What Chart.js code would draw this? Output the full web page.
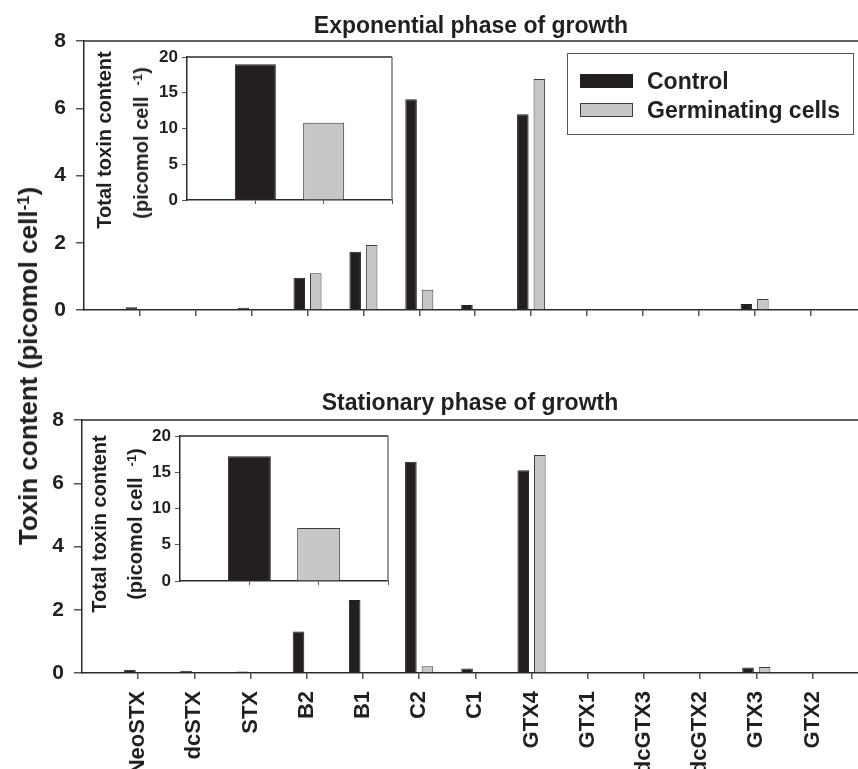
<!DOCTYPE html>
<html>
<head>
<meta charset="utf-8">
<script src="https://cdn.jsdelivr.net/npm/chart.js@4.4.1/dist/chart.umd.min.js"></script>
<style>
  body { margin: 0; background: #fff; width: 858px; height: 769px; overflow: hidden; position: relative;
         font-family: Arial, "Liberation Sans", sans-serif; color: #231f20; }
  canvas { position: absolute; }
  .txt { position: absolute; font-weight: bold; white-space: nowrap; transform: translate(-50%, -50%); line-height: 1; }
  .vert { transform: translate(-50%, -50%) rotate(-90deg); }
  .txt sup { font-size: 0.65em; position: relative; top: -0.5em; vertical-align: baseline; }
  #legend { position: absolute; left: 567px; top: 53px; width: 287px; height: 82px; border: 1.5px solid #555; box-sizing: border-box; }
  .item { position: absolute; left: 12px; height: 24px; display: flex; align-items: center; font-weight: bold; font-size: 23px; }
  .swatch { width: 51px; height: 12px; margin-right: 14px; border: 1px solid; }
</style>
</head>
<body>

<canvas id="expMain" width="858" height="299" style="left:0;top:31px"></canvas>
<canvas id="statMain" width="858" height="359" style="left:0;top:410px"></canvas>
<canvas id="expTotal" width="250" height="168" style="left:150px;top:47px"></canvas>
<canvas id="statTotal" width="253" height="170" style="left:143px;top:426px"></canvas>

<div class="txt" style="left:471px;top:25px;font-size:23px">Exponential phase of growth</div>
<div class="txt" style="left:470px;top:402px;font-size:23px">Stationary phase of growth</div>
<div class="txt vert" style="left:28px;top:366px;font-size:26px">Toxin content (picomol cell<sup>-1</sup>)</div>

<div class="txt vert" style="left:104px;top:140px;font-size:20px">Total toxin content</div>
<div class="txt vert" style="left:141px;top:143px;font-size:20px">(picomol cell &nbsp;<sup>-1</sup>)</div>
<div class="txt vert" style="left:99px;top:524px;font-size:20px">Total toxin content</div>
<div class="txt vert" style="left:135px;top:524px;font-size:20px">(picomol cell &nbsp;<sup>-1</sup>)</div>

<div id="legend"></div>

<script>
// Toxin names along the x axis
const toxins = ['NeoSTX', 'dcSTX', 'STX', 'B2', 'B1', 'C2', 'C1', 'GTX4', 'GTX1', 'dcGTX3', 'dcGTX2', 'GTX3', 'GTX2'];
const seriesNames = ['Control', 'Germinating cells'];

// Exponential phase (picomol per cell)
const expControl = [0.08, 0, 0.07, 0.96, 1.73, 6.27, 0.15, 5.82, 0, 0, 0, 0.18, 0];
const expGerm = [0, 0, 0, 1.09, 1.93, 0.6, 0, 6.87, 0, 0, 0, 0.33, 0];

// Stationary phase (picomol per cell)
const statControl = [0.1, 0.07, 0.05, 1.31, 2.31, 6.68, 0.14, 6.41, 0, 0, 0, 0.17, 0];
const statGerm = [0, 0, 0, 0, 0, 0.21, 0, 6.89, 0, 0, 0, 0.19, 0];

// Insets: total toxin content, control vs germinating
const expTotals = [19.0, 10.8];
const statTotals = [17.2, 7.3];

// Tick labels
const mainTicks = [0, 2, 4, 6, 8];
const insetTicks = [0, 5, 10, 15, 20];

const controlColor = '#231f20';
const germColor = '#c6c7c9';
const germEdge = '#3c3c3c';
const axisColor = '#2b2b2b';

Chart.defaults.font.family = 'Arial, "Liberation Sans", sans-serif';
Chart.defaults.font.weight = 'bold';
Chart.defaults.color = '#231f20';

// Draws the top (and optionally right) frame lines of the plot area
const framePlugin = {
  id: 'frame',
  afterDraw(chart, args, opts) {
    const { ctx, chartArea: a } = chart;
    ctx.save();
    ctx.lineWidth = 1.5;
    ctx.strokeStyle = axisColor;
    ctx.beginPath();
    ctx.moveTo(a.left, a.top);
    ctx.lineTo(a.right, a.top);
    ctx.stroke();
    if (opts.right) {
      ctx.strokeStyle = '#777';
      ctx.beginPath();
      ctx.moveTo(a.right, a.top);
      ctx.lineTo(a.right, a.bottom);
      ctx.stroke();
    }
    ctx.restore();
  }
};

// keep tick labels from pushing the plot area around
function fixWidth(w) {
  return s => { s.width = w; s.paddingTop = 0; s.paddingBottom = 0; };
}
function fixHeight(h) {
  return s => { s.height = h; s.paddingLeft = 0; s.paddingRight = 0; };
}

function toxinChart(id, control, germ, axisLeft, xMax, showNames, axisHeight) {
  return new Chart(document.getElementById(id), {
    type: 'bar',
    data: {
      datasets: [
        { label: seriesNames[0], data: control.map((v, i) => ({ x: i + 1, y: v })),
          backgroundColor: controlColor, borderColor: controlColor, borderWidth: 1 },
        { label: seriesNames[1], data: germ.map((v, i) => ({ x: i + 1, y: v })),
          backgroundColor: germColor, borderColor: germEdge, borderWidth: 1 }
      ]
    },
    options: {
      responsive: false,
      animation: false,
      categoryPercentage: 0.59,
      barPercentage: 0.7,
      layout: { padding: { top: 10, right: 0, left: 0, bottom: 0 } },
      plugins: { legend: { display: false }, tooltip: { enabled: false }, frame: { right: false } },
      scales: {
        x: {
          type: 'linear', min: 0, max: xMax, offset: false,
          afterBuildTicks: s => { s.ticks = toxins.map((_, i) => ({ value: i + 1 })); },
          afterFit: fixHeight(axisHeight),
          grid: { drawOnChartArea: false, offset: false, tickLength: 6, color: '#555', lineWidth: 1.5 },
          border: { color: axisColor, width: 1.5 },
          ticks: { display: showNames, autoSkip: false, minRotation: 90, maxRotation: 90, padding: 12,
                   font: { size: 22 }, callback: v => toxins[v - 1] }
        },
        y: {
          min: 0, max: 8,
          afterBuildTicks: s => { s.ticks = mainTicks.map(v => ({ value: v })); },
          afterFit: fixWidth(axisLeft),
          grid: { drawOnChartArea: false, tickLength: 8, color: '#555', lineWidth: 1.5 },
          border: { color: axisColor, width: 1.5 },
          ticks: { padding: 10, font: { size: 21 } }
        }
      }
    },
    plugins: [framePlugin]
  });
}

function totalChart(id, totals, barPct) {
  return new Chart(document.getElementById(id), {
    type: 'bar',
    data: {
      datasets: [{
        data: totals.map((v, i) => ({ x: i + 1, y: v })),
        backgroundColor: [controlColor, germColor],
        borderColor: [controlColor, germEdge],
        borderWidth: 1,
        categoryPercentage: 1,
        barPercentage: barPct
      }]
    },
    options: {
      responsive: false,
      animation: false,
      layout: { padding: { top: 10, right: 8, left: 0, bottom: 0 } },
      plugins: { legend: { display: false }, tooltip: { enabled: false }, frame: { right: true } },
      scales: {
        x: {
          type: 'linear', min: 0, max: 3, offset: false,
          afterBuildTicks: s => { s.ticks = [1, 2, 3].map(v => ({ value: v })); },
          afterFit: fixHeight(15),
          grid: { drawOnChartArea: false, offset: false, tickLength: 4, color: '#555', lineWidth: 1 },
          border: { color: axisColor, width: 1.5 },
          ticks: { display: false }
        },
        y: {
          min: 0, max: 20,
          afterBuildTicks: s => { s.ticks = insetTicks.map(v => ({ value: v })); },
          afterFit: fixWidth(37),
          grid: { drawOnChartArea: false, tickLength: 5, color: '#555', lineWidth: 1 },
          border: { color: axisColor, width: 1.5 },
          ticks: { padding: 4, font: { size: 17 } }
        }
      }
    },
    plugins: [framePlugin]
  });
}

toxinChart('expMain', expControl, expGerm, 84, 13.85, false, 20);
toxinChart('statMain', statControl, statGerm, 82, 13.81, true, 96);
totalChart('expTotal', expTotals, 0.6);
totalChart('statTotal', statTotals, 0.62);

// Legend box built from the series names
const legend = document.getElementById('legend');
seriesNames.forEach((name, i) => {
  const item = document.createElement('div');
  item.className = 'item';
  item.style.top = (i === 0 ? 15 : 44) + 'px';
  const sw = document.createElement('span');
  sw.className = 'swatch';
  sw.style.background = i === 0 ? controlColor : germColor;
  sw.style.borderColor = i === 0 ? controlColor : germEdge;
  item.appendChild(sw);
  item.appendChild(document.createTextNode(name));
  legend.appendChild(item);
});
</script>
</body>
</html>
